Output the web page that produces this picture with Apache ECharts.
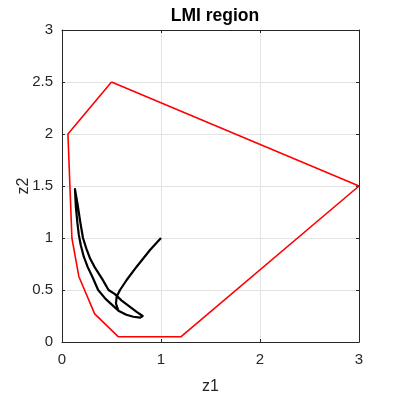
<!DOCTYPE html>
<html>
<head>
<meta charset="utf-8">
<script src="https://cdn.jsdelivr.net/npm/echarts@6/dist/echarts.min.js"></script>
<style>
  html, body { margin: 0; padding: 0; background: #fff; }
  #main { width: 399px; height: 399px; }
</style>
</head>
<body>
<div id="main"></div>
<script>
// LMI region polygon (closed)
var regionX = [0.5, 3.0, 1.2, 0.57, 0.33, 0.17, 0.1, 0.06, 0.5];
var regionY = [2.5, 1.5, 0.05, 0.05, 0.27, 0.63, 1.0, 2.0, 2.5];

// state trajectory z1 / z2
var trajX = [1.0, 0.889, 0.754, 0.653, 0.586, 0.552, 0.545,
  0.57, 0.65, 0.72, 0.79, 0.815,
  0.754, 0.67, 0.6, 0.535, 0.47, 0.41, 0.33, 0.285, 0.245, 0.212, 0.185, 0.158, 0.131,
  0.14, 0.155, 0.17, 0.19, 0.22, 0.26, 0.31, 0.365, 0.44, 0.52, 0.57, 0.65, 0.72, 0.79, 0.815];
var trajY = [1.0, 0.885, 0.724, 0.596, 0.5, 0.435, 0.37,
  0.3, 0.262, 0.243, 0.235, 0.25,
  0.29, 0.35, 0.4, 0.46, 0.5, 0.6, 0.72, 0.8, 0.9, 1.0, 1.15, 1.32, 1.47,
  1.3, 1.15, 1.03, 0.93, 0.82, 0.72, 0.62, 0.5, 0.415, 0.345, 0.3, 0.262, 0.243, 0.235, 0.25];

var xTicks = [0, 1, 2, 3];
var yTicks = [0, 0.5, 1, 1.5, 2, 2.5, 3];

var zip = function (xs, ys) {
    return xs.map(function (v, i) { return [v, ys[i]]; });
};

var myChart = echarts.init(document.getElementById('main'));

var fontName = 'Liberation Sans, Arial, sans-serif';
var axisText = { color: '#262626', fontFamily: fontName, fontSize: 15 };
var gridLine = { show: true, lineStyle: { color: '#e3e3e3', width: 1 } };
var boxLine = { show: true, onZero: false, lineStyle: { color: '#262626', width: 1 } };
var tick = { show: true, inside: true, length: 3, lineStyle: { color: '#262626' } };

var option = {
    animation: false,
    title: {
        text: 'LMI region',
        left: 210,
        textAlign: 'center',
        top: 2,
        textStyle: { fontFamily: fontName, fontSize: 17.5, fontWeight: 'bold', color: '#000' }
    },
    grid: { left: 62, right: 40, top: 30, bottom: 57, containLabel: false, outerBoundsMode: 'none' },
    xAxis: [
        {
            type: 'value', min: 0, max: 3, interval: 1,
            name: 'z1', nameLocation: 'middle', nameGap: 37, nameMoveOverlap: false,
            nameTextStyle: { color: '#262626', fontFamily: fontName, fontSize: 16 },
            axisLine: boxLine,
            axisTick: tick,
            axisLabel: Object.assign({ margin: 10, formatter: function (v) { return xTicks.indexOf(v) >= 0 ? String(v) : ''; } }, axisText),
            splitLine: gridLine
        },
        {
            type: 'value', min: 0, max: 3, interval: 1, position: 'top',
            axisLine: boxLine,
            axisTick: tick,
            axisLabel: { show: false },
            splitLine: { show: false }
        }
    ],
    yAxis: [
        {
            type: 'value', min: 0, max: 3, interval: 0.5,
            name: 'z2', nameLocation: 'middle', nameGap: 30, nameMoveOverlap: false,
            nameTextStyle: { color: '#262626', fontFamily: fontName, fontSize: 16 },
            axisLine: boxLine,
            axisTick: tick,
            axisLabel: Object.assign({ margin: 9, formatter: function (v) { return yTicks.indexOf(v) >= 0 ? String(v) : ''; } }, axisText),
            splitLine: gridLine
        },
        {
            type: 'value', min: 0, max: 3, interval: 0.5, position: 'right',
            axisLine: boxLine,
            axisTick: tick,
            axisLabel: { show: false },
            splitLine: { show: false }
        }
    ],
    series: [
        {
            name: 'region',
            type: 'line',
            data: zip(regionX, regionY),
            showSymbol: false,
            lineStyle: { color: '#ff0000', width: 1.6 },
            z: 3
        },
        {
            name: 'trajectory',
            type: 'line',
            data: zip(trajX, trajY),
            smooth: false,
            showSymbol: false,
            lineStyle: { color: '#000000', width: 2.2, join: 'round' },
            z: 4
        }
    ]
};

myChart.setOption(option);
</script>
</body>
</html>
